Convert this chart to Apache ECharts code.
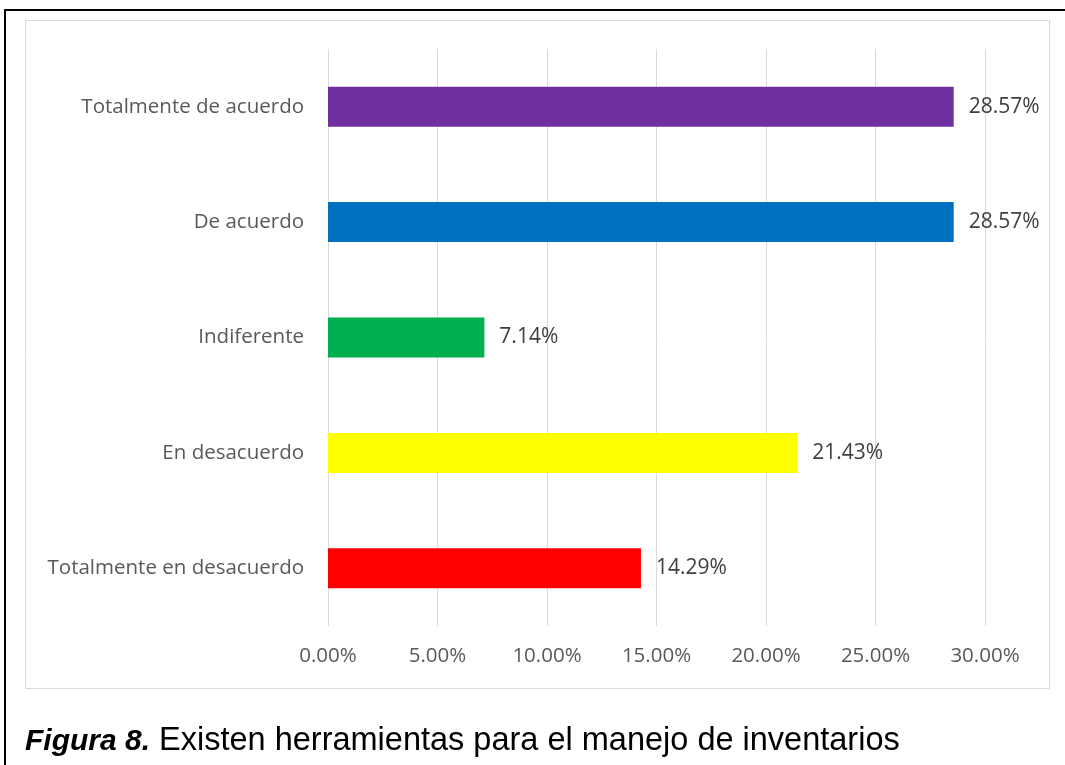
<!DOCTYPE html>
<html>
<head>
<meta charset="utf-8">
<script src="https://cdn.jsdelivr.net/npm/echarts@6/dist/echarts.min.js"></script>
<style>
html,body{margin:0;padding:0;background:#fff;}
#chart{width:1065px;height:765px;}
</style>
</head>
<body>
<div id="chart"></div>
<script>
const categories = ['Totalmente en desacuerdo', 'En desacuerdo', 'Indiferente', 'De acuerdo', 'Totalmente de acuerdo'];
const values = [14.29, 21.43, 7.14, 28.57, 28.57];
const barColors = ['#FF0000', '#FFFF00', '#00B050', '#0070C0', '#7030A0'];
const xTicks = [0, 5, 10, 15, 20, 25, 30];

const chart = echarts.init(document.getElementById('chart'));
const font = 'Open Sans';
chart.setOption({
  animation: false,
  grid: {left: 328, right: 80, top: 49, bottom: 139, containLabel: false},
  xAxis: {
    type: 'value', min: xTicks[0], max: xTicks[xTicks.length - 1], interval: 5,
    axisLine: {show: false}, axisTick: {show: false},
    splitLine: {show: true, lineStyle: {color: '#d9d9d9', width: 1}},
    axisLabel: {formatter: v => v.toFixed(2) + '%', color: '#595959', fontSize: 20.5, fontFamily: font, margin: 20}
  },
  yAxis: {
    type: 'category', data: categories,
    axisLine: {show: false}, axisTick: {show: false},
    axisLabel: {color: '#595959', fontSize: 20.5, fontFamily: font, margin: 24}
  },
  series: [{
    type: 'bar', barWidth: 40,
    data: values.map((v, i) => ({value: v, itemStyle: {color: barColors[i]}})),
    label: {show: true, position: 'right', distance: 15, formatter: p => p.value.toFixed(2) + '%', color: '#404040', fontSize: 21, fontFamily: font}
  }],
  graphic: [
    {type: 'polyline', shape: {points: [[5, 765], [5, 10], [1065, 10]]}, style: {stroke: '#000', lineWidth: 2, fill: null}, silent: true},
    {type: 'rect', shape: {x: 25.5, y: 20.5, width: 1024, height: 668}, style: {stroke: '#d9d9d9', lineWidth: 1, fill: null}, silent: true},
    {type: 'text', left: 25, top: 725, style: {rich: {b: {fontFamily: 'Liberation Sans', fontSize: 30, fontWeight: 'bold', fontStyle: 'italic', fill: '#000'}, n: {fontFamily: 'Liberation Sans', fontSize: 32.5, fill: '#000'}}, text: '{b|Figura 8.}{n| Existen herramientas para el manejo de inventarios}'}, silent: true}
  ]
});
</script>
</body>
</html>
